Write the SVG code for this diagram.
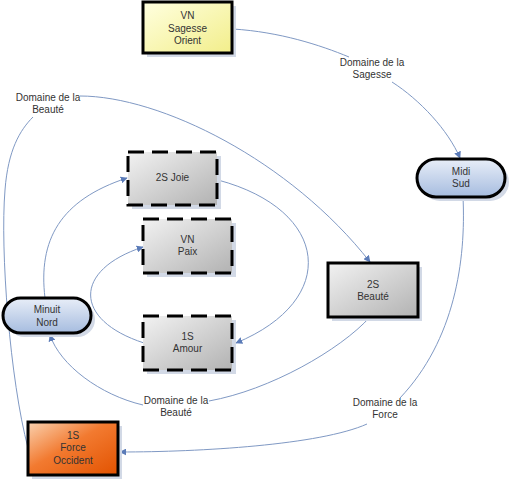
<svg xmlns="http://www.w3.org/2000/svg" width="512" height="482" viewBox="0 0 512 482">
<defs>
<linearGradient id="gGrey" x1="0" y1="0" x2="1" y2="1"><stop offset="0" stop-color="#f2f2f2"/><stop offset="1" stop-color="#b2b2b2"/></linearGradient>
<linearGradient id="gYellow" x1="0" y1="0" x2="1" y2="1"><stop offset="0" stop-color="#ffffe0"/><stop offset="1" stop-color="#f2ee8a"/></linearGradient>
<linearGradient id="gBlue" x1="0" y1="0" x2="0" y2="1"><stop offset="0" stop-color="#e8eef8"/><stop offset="1" stop-color="#a6bcdf"/></linearGradient>
<linearGradient id="gOrange" x1="0" y1="0" x2="1" y2="1"><stop offset="0" stop-color="#fad2b0"/><stop offset="0.45" stop-color="#f27a30"/><stop offset="1" stop-color="#e25200"/></linearGradient>
<marker id="arr" viewBox="0 0 10 10" refX="9" refY="5" markerWidth="7" markerHeight="7" orient="auto" markerUnits="userSpaceOnUse"><path d="M0,0 L10,5 L0,10 z" fill="#5b7bb8"/></marker>
</defs>
<style>
text{font-family:"Liberation Sans",Arial,sans-serif;font-size:10px;fill:#333;text-anchor:middle}
.sh{fill:#d2d9e6}
.solid{stroke:#000;stroke-width:3}
.dash{stroke:#000;stroke-width:3;stroke-dasharray:16 8}
.c{fill:none;stroke:#8099c4;stroke-width:1}
</style>
<rect width="512" height="482" fill="#fff"/>
<g id="connectors">
<path class="c" d="M233,29 C280,32 320,45 349,57"/>
<path class="c" d="M392,82 C420,100 448,130 460,158" marker-end="url(#arr)"/>
<path class="c" d="M28,448 C10,380 0,250 5,190 C8,150 20,130 33,117"/>
<path class="c" d="M80,96 C160,96 290,160 370,262" marker-end="url(#arr)"/>
<path class="c" d="M463,197 C466,260 455,340 400,398"/>
<path class="c" d="M367,424 C320,445 200,452 120,452" marker-end="url(#arr)"/>
<path class="c" d="M370,317 C340,350 270,390 209,401"/>
<path class="c" d="M143,405 C100,395 60,365 50,335" marker-end="url(#arr)"/>
<path class="c" d="M45,298 C38,240 60,200 127,178" marker-end="url(#arr)"/>
<path class="c" d="M218,180 C330,210 340,300 236,343" marker-end="url(#arr)"/>
<path class="c" d="M144,343 C73,320 73,270 143,247" marker-end="url(#arr)"/>
<text x="372" y="66">Domaine de la</text><text x="372" y="78">Sagesse</text>
<text x="48" y="101">Domaine de la</text><text x="48" y="113">Beauté</text>
<text x="385" y="406">Domaine de la</text><text x="385" y="418">Force</text>
<text x="176" y="404">Domaine de la</text><text x="176" y="416">Beauté</text>
</g>
<g id="vn-sagesse-orient">
<rect class="sh" x="147" y="6" width="89" height="51"/>
<rect x="143" y="2" width="89" height="51" fill="url(#gYellow)" class="solid"/>
<text x="187.5" y="19">VN</text><text x="187.5" y="31.5">Sagesse</text><text x="187.5" y="44">Orient</text>
</g>
<g id="midi-sud">
<rect class="sh" x="421" y="163" width="88" height="38" rx="19"/>
<rect x="417" y="159" width="88" height="38" rx="19" fill="url(#gBlue)" class="solid"/>
<text x="461" y="175">Midi</text><text x="461" y="187">Sud</text>
</g>
<g id="s2-joie">
<rect class="sh" x="132" y="156" width="89" height="53"/>
<rect x="128" y="152" width="89" height="53" fill="url(#gGrey)" class="dash"/>
<text x="172.5" y="181">2S Joie</text>
</g>
<g id="vn-paix">
<rect class="sh" x="147" y="223" width="89" height="54"/>
<rect x="143" y="219" width="89" height="54" fill="url(#gGrey)" class="dash"/>
<text x="187.5" y="243">VN</text><text x="187.5" y="255">Paix</text>
</g>
<g id="s1-amour">
<rect class="sh" x="147" y="320" width="89" height="54"/>
<rect x="143" y="316" width="89" height="54" fill="url(#gGrey)" class="dash"/>
<text x="187.5" y="340">1S</text><text x="187.5" y="352">Amour</text>
</g>
<g id="s2-beaute">
<rect class="sh" x="332" y="267" width="90" height="54"/>
<rect x="328" y="263" width="90" height="54" fill="url(#gGrey)" class="solid"/>
<text x="373" y="288">2S</text><text x="373" y="300">Beauté</text>
</g>
<g id="minuit-nord">
<rect class="sh" x="7" y="302" width="88" height="35" rx="17.5"/>
<rect x="3" y="298" width="88" height="35" rx="17.5" fill="url(#gBlue)" class="solid"/>
<text x="47" y="312.5">Minuit</text><text x="47" y="325.5">Nord</text>
</g>
<g id="s1-force-occident">
<rect class="sh" x="32" y="426" width="90" height="53"/>
<rect x="28" y="422" width="90" height="53" fill="url(#gOrange)" class="solid"/>
<text x="73" y="438.5">1S</text><text x="73" y="451">Force</text><text x="73" y="463.5">Occident</text>
</g>
</svg>
